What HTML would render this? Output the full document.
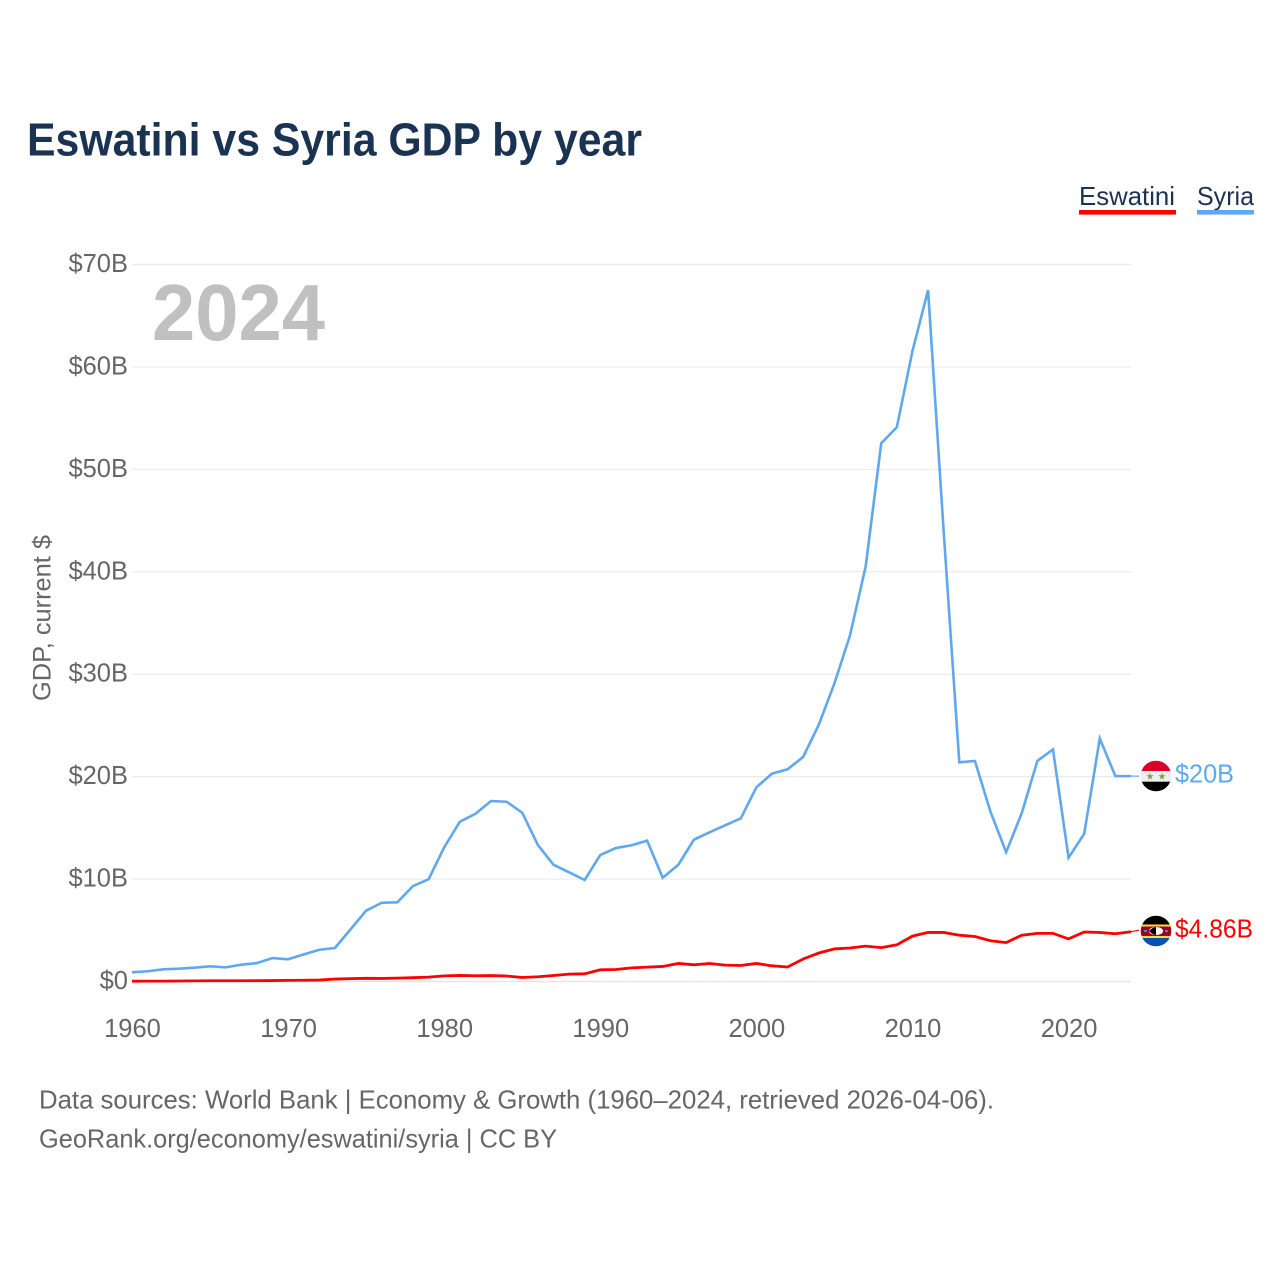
<!DOCTYPE html>
<html lang="en">
<head>
<meta charset="utf-8">
<title>Eswatini vs Syria GDP by year</title>
<style>
html,body{margin:0;padding:0;background:#fff}
svg{display:block;font-family:"Liberation Sans",Arial,sans-serif}
</style>
</head>
<body>
<svg id="chart" width="1280" height="1280" viewBox="0 0 1280 1280" xmlns="http://www.w3.org/2000/svg">
  <defs>
    <clipPath id="syria-clip"><circle cx="1156" cy="776" r="15.3"/></clipPath>
    <clipPath id="eswatini-clip"><circle cx="1156" cy="931" r="15.3"/></clipPath>
  </defs>
  <rect width="1280" height="1280" fill="#fff"/>
  <text x="27" y="155.5" font-size="46" font-weight="700" fill="#1a3353" textLength="615" lengthAdjust="spacingAndGlyphs">Eswatini vs Syria GDP by year</text>

  <g>
    <g>
      <text x="1079" y="205" font-size="26" fill="#1a3353" textLength="96" lengthAdjust="spacingAndGlyphs">Eswatini</text>
      <rect x="1079" y="210" width="97" height="4.6" fill="#ff0000"/>
    </g>
    <g>
      <text x="1197" y="205" font-size="26" fill="#1a3353" textLength="57" lengthAdjust="spacingAndGlyphs">Syria</text>
      <rect x="1197" y="210" width="57" height="4.6" fill="#5fa8ee"/>
    </g>
  </g>

  <text x="152" y="340" font-size="80" font-weight="700" fill="#c0c0c0" textLength="173" lengthAdjust="spacingAndGlyphs">2024</text>
  <text transform="translate(50.5 618) rotate(-90)" text-anchor="middle" font-size="25" fill="#666" textLength="166" lengthAdjust="spacingAndGlyphs">GDP, current $</text>

  <g id="grid"></g>
  <g id="y-ticks"></g>
  <g id="x-ticks"></g>
  <g id="series"></g>

  <g clip-path="url(#syria-clip)">
    <rect x="1140" y="760" width="32" height="11" fill="#d80027"/>
    <rect x="1140" y="771" width="32" height="10.7" fill="#eeeeee"/>
    <rect x="1140" y="781.7" width="32" height="11" fill="#000"/>
    <text x="1150" y="779.5" font-size="9.5" text-anchor="middle" fill="#6da544">★</text>
    <text x="1162" y="779.5" font-size="9.5" text-anchor="middle" fill="#6da544">★</text>
  </g>
  <g clip-path="url(#eswatini-clip)">
    <rect x="1140" y="915" width="32" height="9.5" fill="#000"/>
    <rect x="1140" y="924.5" width="32" height="2" fill="#ffda44"/>
    <rect x="1140" y="926.5" width="32" height="9.5" fill="#a2001d"/>
    <rect x="1140" y="936" width="32" height="2" fill="#ffda44"/>
    <rect x="1140" y="938" width="32" height="10" fill="#0052b4"/>
    <ellipse cx="1156" cy="931" rx="7" ry="4" fill="#fff"/>
    <path d="M1149 931 Q1153 927 1156 927 L1156 935 Q1153 935 1149 931Z" fill="#000"/>
    <rect x="1144" y="930" width="3" height="2" fill="#338af3"/>
    <rect x="1165" y="930" width="3" height="2" fill="#338af3"/>
  </g>

  <text x="1175" y="782.5" font-size="25.5" fill="#5fa8ee" textLength="59" lengthAdjust="spacingAndGlyphs">$20B</text>
  <text x="1175" y="937.5" font-size="25.5" fill="#ff0000" textLength="78" lengthAdjust="spacingAndGlyphs">$4.86B</text>

  <g>
    <text x="39" y="1108.5" font-size="26" fill="#666" textLength="955" lengthAdjust="spacingAndGlyphs">Data sources: World Bank | Economy &amp; Growth (1960–2024, retrieved 2026-04-06).</text>
    <text x="39" y="1147.5" font-size="26" fill="#666" textLength="518" lengthAdjust="spacingAndGlyphs">GeoRank.org/economy/eswatini/syria | CC BY</text>
  </g>
</svg>
<script>
const years = [1960,1961,1962,1963,1964,1965,1966,1967,1968,1969,1970,1971,1972,1973,1974,1975,1976,1977,1978,1979,1980,1981,1982,1983,1984,1985,1986,1987,1988,1989,1990,1991,1992,1993,1994,1995,1996,1997,1998,1999,2000,2001,2002,2003,2004,2005,2006,2007,2008,2009,2010,2011,2012,2013,2014,2015,2016,2017,2018,2019,2020,2021,2022,2023,2024];
const syria = [0.9,1.0,1.19,1.25,1.35,1.48,1.38,1.64,1.8,2.29,2.17,2.65,3.1,3.27,5.09,6.91,7.69,7.73,9.32,9.98,13.1,15.6,16.38,17.62,17.55,16.48,13.33,11.4,10.66,9.91,12.35,13.03,13.3,13.75,10.13,11.4,13.85,14.56,15.25,15.93,18.96,20.29,20.72,21.93,25.07,29.1,33.8,40.5,52.55,54.12,61.55,67.5,43.9,21.4,21.53,16.56,12.62,16.43,21.53,22.65,12.09,14.41,23.72,20.05,20.05];
const eswatini = [0.03,0.04,0.04,0.05,0.06,0.07,0.07,0.07,0.08,0.09,0.11,0.12,0.14,0.24,0.28,0.31,0.3,0.33,0.37,0.43,0.55,0.59,0.56,0.58,0.54,0.39,0.46,0.59,0.72,0.75,1.14,1.17,1.33,1.4,1.47,1.76,1.63,1.76,1.6,1.56,1.76,1.53,1.42,2.2,2.78,3.18,3.27,3.45,3.31,3.58,4.43,4.79,4.79,4.52,4.39,3.98,3.8,4.52,4.7,4.7,4.16,4.83,4.79,4.66,4.86];
const yTickValues = [0,10,20,30,40,50,60,70];
const yTickLabels = ["$0","$10B","$20B","$30B","$40B","$50B","$60B","$70B"];
const xTickValues = [1960,1970,1980,1990,2000,2010,2020];
const xTickLabels = ["1960","1970","1980","1990","2000","2010","2020"];

const NS = 'http://www.w3.org/2000/svg';
const plot = {left: 132, right: 1131, top: 264.5, bottom: 981.5};
const xDomain = [1960, 2024];
const yDomain = [0, 70];
function xScale(v){ return plot.left + (v - xDomain[0]) / (xDomain[1] - xDomain[0]) * (plot.right - plot.left); }
function yScale(v){ return plot.bottom - (v - yDomain[0]) / (yDomain[1] - yDomain[0]) * (plot.bottom - plot.top); }
function make(tag, parent, attrs){
  const el = document.createElementNS(NS, tag);
  for (const k in attrs) el.setAttribute(k, attrs[k]);
  parent.appendChild(el);
  return el;
}
const gridG = document.getElementById('grid');
const yG = document.getElementById('y-ticks');
const xG = document.getElementById('x-ticks');
const seriesG = document.getElementById('series');

yTickValues.forEach(function(v, i){
  const line = make('line', gridG, {x1: plot.left, x2: plot.right, y1: yScale(v), y2: yScale(v), stroke: v === 0 ? '#e6e6e6' : '#ebebeb', 'stroke-width': v === 0 ? 1.6 : 1.2});
  
  
  const t = make('text', yG, {x: 128, y: yScale(v) + 7.5, 'text-anchor': 'end', 'font-size': 25.5, fill: '#666'});
  t.textContent = yTickLabels[i];
  
  
});
xTickValues.forEach(function(v, i){
  const t = make('text', xG, {x: xScale(v) + 0.5, y: 1037, 'text-anchor': 'middle', 'font-size': 25.5, fill: '#666'});
  t.textContent = xTickLabels[i];
  
  
});
function linePath(values){
  return values.map(function(v, i){ return (i ? 'L' : 'M') + xScale(years[i]).toFixed(2) + ' ' + yScale(v).toFixed(2); }).join('');
}
function drawSeries(values, color, name, width){
  const p = make('path', seriesG, {d: linePath(values), fill: 'none', stroke: color, 'stroke-width': width, 'stroke-linejoin': 'miter'});
  
  
  const last = values[values.length - 1];
  const lead = make('line', seriesG, {x1: plot.right, x2: 1139, y1: yScale(last), y2: yScale(last) - (name === 'line-eswatini' ? 1.5 : 0), stroke: color, 'stroke-width': 1.2});
  
  
}
drawSeries(syria, '#5fa8ee', 'line-syria', 2.6);
drawSeries(eswatini, '#ff0000', 'line-eswatini', 2.8);
</script>
</body>
</html>
